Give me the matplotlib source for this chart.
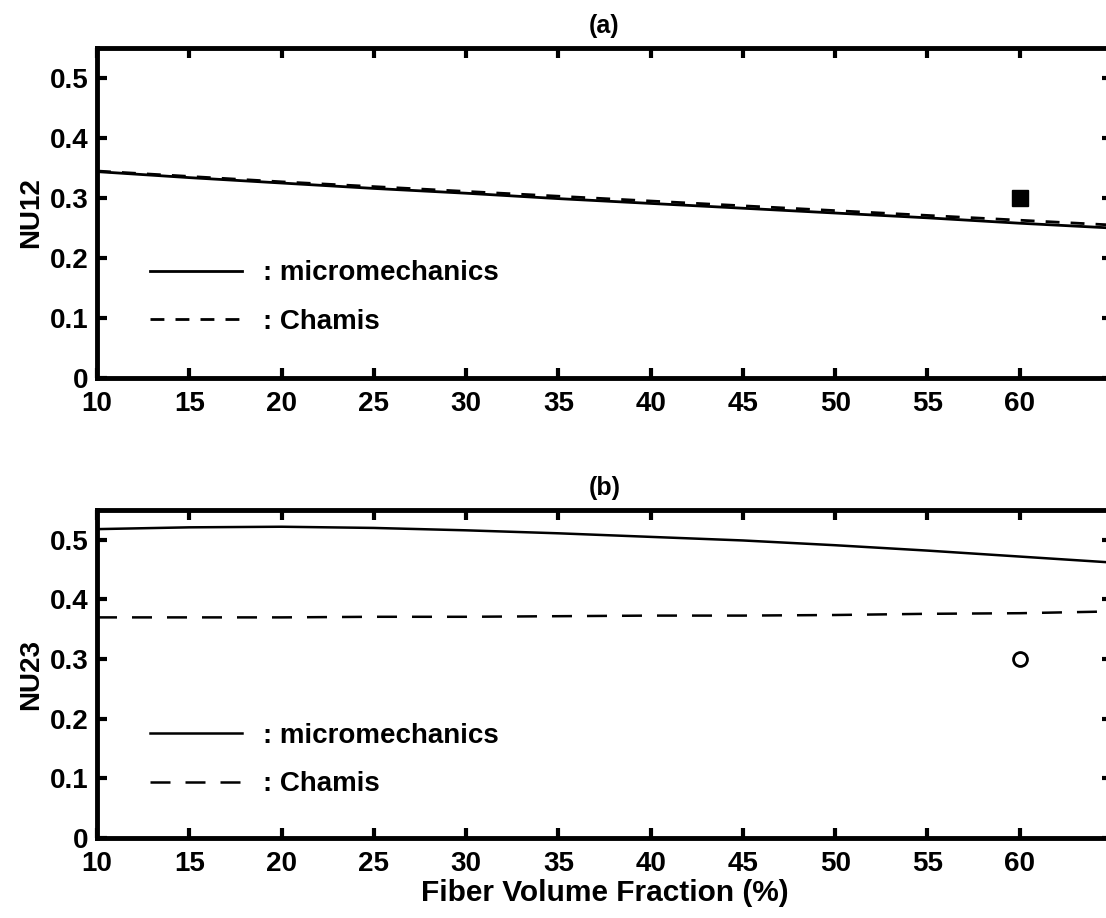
import matplotlib.pyplot as plt
import numpy as np

# fiber volume fraction (%)
vf = [10, 15, 20, 25, 30, 35, 40, 45, 50, 55, 60, 65]

# (a) NU12
nu12_micro = [0.344, 0.334, 0.325, 0.316, 0.308, 0.299, 0.291, 0.283, 0.275, 0.267, 0.258, 0.250]
nu12_chamis = [0.345, 0.336, 0.327, 0.319, 0.311, 0.303, 0.295, 0.287, 0.279, 0.271, 0.263, 0.255]
nu12_exp_x = [60]
nu12_exp_y = [0.30]

# (b) NU23
nu23_micro = [0.518, 0.521, 0.522, 0.520, 0.516, 0.511, 0.505, 0.499, 0.491, 0.482, 0.472, 0.462]
nu23_chamis = [0.370, 0.370, 0.370, 0.371, 0.371, 0.372, 0.373, 0.373, 0.374, 0.376, 0.377, 0.380]
nu23_exp_x = [60]
nu23_exp_y = [0.30]

xticks = [10, 15, 20, 25, 30, 35, 40, 45, 50, 55, 60]
yticks = [0, 0.1, 0.2, 0.3, 0.4, 0.5]

plt.rcParams['font.family'] = ['Liberation Sans', 'DejaVu Sans']
plt.rcParams['font.weight'] = 'bold'

fig = plt.figure(figsize=(11.06, 9.18), dpi=100)
ax1 = fig.add_axes([0.0877, 0.5882, 0.9177, 0.3595])
ax2 = fig.add_axes([0.0877, 0.0871, 0.9177, 0.3573])


def style_axes(ax, title, ylabel, leg_y):
    ax.set_xlim(10, 65)
    ax.set_ylim(0, 0.55)
    ax.set_xticks(xticks)
    ax.set_yticks(yticks)
    ax.set_yticklabels(['0', '0.1', '0.2', '0.3', '0.4', '0.5'])
    ax.tick_params(direction='in', length=7, width=3, top=True, right=True,
                   labelsize=20)
    ax.tick_params(axis='x', pad=9)
    ax.tick_params(axis='y', pad=6)
    for s in ax.spines.values():
        s.set_linewidth(3.5)
    ax.set_title(title, fontsize=18, fontweight='bold', pad=11)
    ax.set_ylabel(ylabel, fontsize=20, fontweight='bold', labelpad=4)
    leg = ax.legend(loc='lower left', bbox_to_anchor=(0.0414, leg_y), frameon=False,
                    borderaxespad=0, fontsize=20, handlelength=3.3,
                    handletextpad=0.75, labelspacing=0.8)
    for t in leg.get_texts():
        t.set_fontweight('bold')


ax1.plot(vf, nu12_micro, 'k-', lw=2, label=': micromechanics')
ax1.plot(vf, nu12_chamis, 'k--', lw=2, dashes=(5, 4), label=': Chamis')
ax1.plot(nu12_exp_x, nu12_exp_y, 's', color='k', ms=11)
style_axes(ax1, '(a)', 'NU12', 0.098)

ax2.plot(vf, nu23_micro, 'k-', lw=1.8, label=': micromechanics')
ax2.plot(vf, nu23_chamis, 'k--', lw=1.8, dashes=(8, 6), label=': Chamis')
ax2.plot(nu23_exp_x, nu23_exp_y, 'o', mfc='white', mec='k', mew=2, ms=10)
style_axes(ax2, '(b)', 'NU23', 0.09)
ax2.set_xlabel('Fiber Volume Fraction (%)', fontsize=21.5, fontweight='bold', labelpad=2)

fig.savefig('out.png', dpi=100)
